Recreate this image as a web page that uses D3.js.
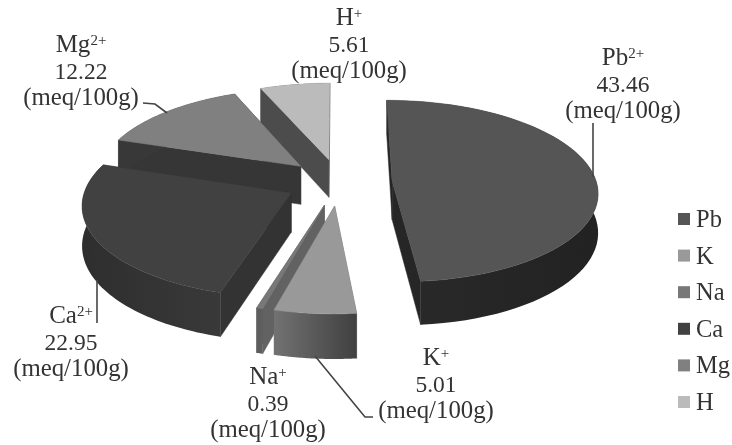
<!DOCTYPE html>
<html>
<head>
<meta charset="utf-8">
<script src="https://cdnjs.cloudflare.com/ajax/libs/d3/7.8.5/d3.min.js"></script>
<style>
  html, body { margin: 0; padding: 0; background: #fff; }
  svg { display: block; filter: blur(0.6px); }
  text { font-family: "Liberation Serif", serif; fill: #333; }
</style>
</head>
<body>
<div id="chartTarget"></div>
<script>
  // pie data, in drawing order of the original chart
  const names = ['Pb', 'K', 'Na', 'Ca', 'Mg', 'H'];
  const values = [43.46, 5.01, 0.39, 22.95, 12.22, 5.61];
  const ions = ['Pb', 'K', 'Na', 'Ca', 'Mg', 'H'];
  const charges = ['2+', '+', '+', '2+', '2+', '+'];
  const unit = '(meq/100g)';

  const topColors = ['#555555', '#999999', '#787878', '#414141', '#808080', '#bbbbbb'];
  const wallLeft = ['#2a2a2a', '#727272', '#5e5e5e', '#2e2e2e', '#383838', '#4c4c4c'];
  const wallRight = ['#222222', '#404040', '#5e5e5e', '#393939', '#383838', '#4c4c4c'];
  const cutColors = ['#262626', '#6a6a6a', '#626262', '#333333', '#363636', '#4c4c4c'];

  // label spots: centre x, first baseline
  const labelX = [623, 436, 268, 71, 81, 349];
  const labelY = [65, 365, 384, 323, 52, 25];
  const leaders = [
    [[593, 123], [593, 177]],
    [[315, 356], [365, 417], [373, 417]],
    [],
    [[97, 280], [97, 323]],
    [[143, 103], [155, 104], [167, 113]],
    []
  ];

  const width = 732;
  const height = 445;
  const cx = 339;
  const cy = 182;
  const radius = 211;
  const explode = 55;
  const tilt = 0.44;
  const depth = 40;

  // simple perspective, far side shrinks
  const persp = v => 1 / (1.033 - 0.116 * v);

  function project(X, Y, z) {
    const s = persp(Y / radius);
    return [cx + X * s, cy + (Y * tilt + z) * s];
  }

  const pie = d3.pie().sort(null).value(d => d);
  const arcs = pie(values);

  const svg = d3.select('#chartTarget').append('svg')
    .attr('width', width)
    .attr('height', height);

  const defs = svg.append('defs');
  const line = d3.line();

  function sliceParts(d, i) {
    const mid = (d.startAngle + d.endAngle) / 2;
    const ox = explode * Math.sin(mid);
    const oy = -explode * Math.cos(mid);
    const rim = a => [ox + radius * Math.sin(a), oy - radius * Math.cos(a)];
    const angle = d3.scaleLinear().domain([0, 60]).range([d.startAngle, d.endAngle]);
    const rimPts = d3.range(61).map(k => rim(angle(k)));
    const at = (p, z) => project(p[0], p[1], z);
    const apex = [ox, oy];
    const radial = p => [at(apex, 0), at(p, 0), at(p, depth), at(apex, depth)];
    return {
      top: [at(apex, 0), ...rimPts.map(p => at(p, 0))],
      wall: [...rimPts.map(p => at(p, 0)), ...rimPts.slice().reverse().map(p => at(p, depth))],
      cuts: [rimPts[0], rimPts[60]]
        .sort((a, b) => (a[1] + oy) - (b[1] + oy))
        .map(radial),
      index: i
    };
  }

  // back to front
  const paintOrder = [5, 4, 3, 2, 1, 0];

  paintOrder.forEach(i => {
    const parts = sliceParts(arcs[i], i);
    const g = svg.append('g').attr('class', 'slice ' + names[i]);

    const grad = defs.append('linearGradient').attr('id', 'wall' + i);
    grad.append('stop').attr('offset', '0%').attr('stop-color', wallLeft[i]);
    grad.append('stop').attr('offset', '100%').attr('stop-color', wallRight[i]);

    parts.cuts.forEach(c => {
      g.append('path').attr('d', line(c) + 'Z').attr('fill', cutColors[i])
        .attr('stroke', cutColors[i]).attr('stroke-width', 0.5);
    });
    g.append('path').attr('d', line(parts.wall) + 'Z').attr('fill', `url(#wall${i})`);
    g.append('path').attr('d', line(parts.top) + 'Z').attr('fill', topColors[i])
      .attr('stroke', topColors[i]).attr('stroke-width', 0.5);
  });

  // leader lines
  svg.append('g').selectAll('path')
    .data(leaders.filter(l => l.length))
    .enter().append('path')
      .attr('d', d => line(d))
      .attr('fill', 'none')
      .attr('stroke', '#444')
      .attr('stroke-width', 1.6);

  // data labels
  const labels = svg.append('g').selectAll('text')
    .data(values)
    .enter().append('text')
      .attr('text-anchor', 'middle')
      .style('font-size', '23.5px');

  labels.each(function(v, i) {
    const t = d3.select(this);
    const first = t.append('tspan').attr('x', labelX[i]).attr('y', labelY[i]).style('font-size', '25px');
    first.append('tspan').text(ions[i]);
    first.append('tspan')
      .attr('dy', -7)
      .style('font-size', '15px')
      .text(charges[i]);
    t.append('tspan').attr('x', labelX[i]).attr('y', labelY[i] + 27).text(v.toFixed(2));
    t.append('tspan').attr('x', labelX[i]).attr('y', labelY[i] + 53)
      .style('font-size', '24.8px')
      .text(unit);
  });

  // legend
  const legendY = d3.scalePoint().domain(names).range([219, 402]);
  const legend = svg.append('g').selectAll('g')
    .data(names)
    .enter().append('g')
      .attr('transform', d => `translate(678, ${legendY(d)})`);

  legend.append('rect')
    .attr('y', -6)
    .attr('width', 12)
    .attr('height', 12)
    .attr('fill', (d, i) => topColors[i]);

  legend.append('text')
    .attr('x', 18)
    .attr('y', 8)
    .style('font-size', '24.5px')
    .text(d => d);
</script>
</body>
</html>
